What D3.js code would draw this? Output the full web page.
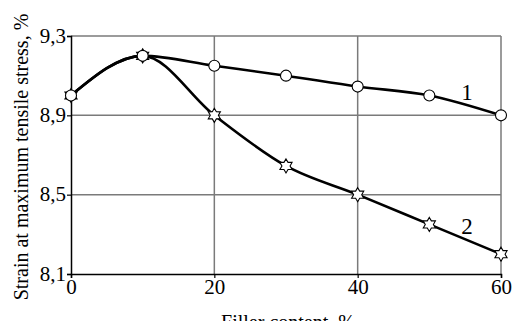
<!DOCTYPE html>
<html>
<head>
<meta charset="utf-8">
<script src="https://cdn.jsdelivr.net/npm/d3@7"></script>
<style>
  body { margin: 0; background: #fff; }
  svg { display: block; }
</style>
</head>
<body>
<svg id="chart"></svg>
<script>
const width = 514, height = 321
const FONT = "Liberation Serif"

// filler content, %
const filler = [0, 10, 20, 30, 40, 50, 60]
// strain at maximum tensile stress, %
const series1 = [9.0, 9.2, 9.15, 9.1, 9.045, 9.0, 8.9]
const series2 = [9.0, 9.2, 8.9, 8.645, 8.5, 8.35, 8.2]
const xTicks = [0, 20, 40, 60]
const yTicks = [8.1, 8.5, 8.9, 9.3]

const svg = d3.select('#chart')
    .attr("width", width)
    .attr("height", height)

const x = d3.scaleLinear().domain([0, 60]).range([71, 501])
const y = d3.scaleLinear().domain([8.1, 9.3]).range([274, 36])

// grid
const grid = svg.append("g")
    .attr("stroke", "#7a7a7a")
    .attr("stroke-width", 1.5)

grid.selectAll("line.gx")
    .data(xTicks.slice(1))
    .enter()
    .append("line")
    .attr("x1", d => x(d)).attr("x2", d => x(d))
    .attr("y1", y(9.3)).attr("y2", y(8.1))

grid.selectAll("line.gy")
    .data(yTicks.slice(1))
    .enter()
    .append("line")
    .attr("x1", x(0)).attr("x2", x(60))
    .attr("y1", d => y(d)).attr("y2", d => y(d))

// axes
svg.append("g")
    .attr("transform", `translate(0,${y(8.1)})`)
    .call(d3.axisBottom(x).tickValues(xTicks).tickSize(4).tickPadding(2).tickFormat(d => d))
    .call(g => g.select(".domain").attr("stroke", "#000").attr("stroke-width", 1.5))
    .call(g => g.selectAll(".tick line").attr("stroke", "#000").attr("stroke-width", 1.2))
    .call(g => g.selectAll("text")
        .attr("font-family", FONT).attr("font-size", 21).attr("fill", "#000").attr("dy", "0.68em"))

svg.append("g")
    .attr("transform", `translate(${x(0)},0)`)
    .call(d3.axisLeft(y).tickValues(yTicks).tickSize(4).tickFormat(d => d3.format(".1f")(d).replace(".", ",")))
    .call(g => g.select(".domain").attr("stroke", "#000").attr("stroke-width", 1.5))
    .call(g => g.selectAll(".tick line").attr("stroke", "#000").attr("stroke-width", 1.2))
    .call(g => g.selectAll("text")
        .attr("font-family", FONT).attr("font-size", 21).attr("fill", "#000").attr("x", -5).attr("dy", "0.3em"))

// curves
const line = d3.line()
    .x((d, i) => x(filler[i]))
    .y(d => y(d))
    .curve(d3.curveMonotoneX)

svg.append("path").datum(series1)
    .attr("d", line)
    .attr("fill", "none").attr("stroke", "#000").attr("stroke-width", 2.6)

svg.append("path").datum(series2)
    .attr("d", line)
    .attr("fill", "none").attr("stroke", "#000").attr("stroke-width", 2.6)

// markers
function hexagram(r) {
    let pts = []
    for (let k = 0; k < 12; k++) {
        let a = -Math.PI / 2 + k * Math.PI / 6
        let rr = k % 2 == 0 ? r : r * 0.58
        pts.push([rr * Math.cos(a), rr * Math.sin(a)])
    }
    return "M" + pts.map(p => p.join(",")).join("L") + "Z"
}

svg.append("g").selectAll("path")
    .data(series2)
    .enter()
    .append("path")
    .attr("d", hexagram(7))
    .attr("transform", (d, i) => `translate(${x(filler[i])},${y(d)})`)
    .attr("fill", "#fff").attr("stroke", "#000").attr("stroke-width", 1.1)

svg.append("g").selectAll("circle")
    .data(series1)
    .enter()
    .append("circle")
    .attr("cx", (d, i) => x(filler[i]))
    .attr("cy", d => y(d))
    .attr("r", 5.5)
    .attr("fill", "#fff").attr("stroke", "#000").attr("stroke-width", 1.1)

// curve labels
svg.append("text").attr("x", 467).attr("y", 100)
    .attr("font-family", FONT).attr("font-size", 23).attr("text-anchor", "middle").text("1")
svg.append("text").attr("x", 467).attr("y", 234)
    .attr("font-family", FONT).attr("font-size", 23).attr("text-anchor", "middle").text("2")

// axis titles
svg.append("text")
    .attr("transform", `translate(28,157) rotate(-90)`)
    .attr("text-anchor", "middle")
    .attr("font-family", FONT).attr("font-size", 20)
    .text("Strain at maximum tensile stress, %")

svg.append("text")
    .attr("x", 288).attr("y", 329)
    .attr("text-anchor", "middle")
    .attr("font-family", FONT).attr("font-size", 20)
    .text("Filler content, %")
</script>
</body>
</html>
